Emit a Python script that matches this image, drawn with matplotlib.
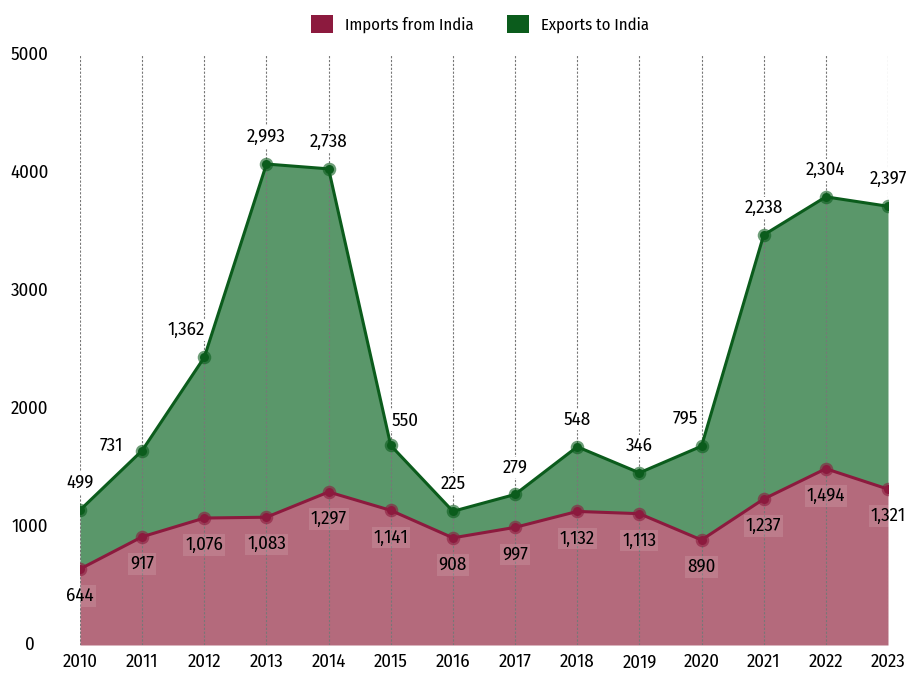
import matplotlib.pyplot as plt
from matplotlib.patches import Patch
from matplotlib import font_manager

years = list(range(2010, 2024))
imports_from_india = [644, 917, 1076, 1083, 1297, 1141, 908, 997, 1132, 1113, 890, 1237, 1494, 1321]
exports_to_india = [499, 731, 1362, 2993, 2738, 550, 225, 279, 548, 346, 795, 2238, 2304, 2397]

# colours
imp_line = '#8c1a3e'
imp_fill = '#b46a7c'
exp_line = '#0b5c1c'
exp_fill = '#5a976a'

# narrow font if there is one
names = {f.name for f in font_manager.fontManager.ttflist}
wanted = ['Fira Sans Condensed', 'Roboto Condensed', 'Open Sans Condensed', 'Liberation Sans Narrow',
          'Encode Sans Condensed', 'PT Sans Narrow', 'Liberation Sans']
fam = [f for f in wanted if f in names][:1] + ['DejaVu Sans']
plt.rcParams['font.family'] = fam

total = [i + e for i, e in zip(imports_from_india, exports_to_india)]

fig = plt.figure(figsize=(9.08, 6.73), dpi=100)
ax = fig.add_axes([80 / 908, 28 / 673, 808 / 908, 590 / 673])

ax.fill_between(years, 0, imports_from_india, color=imp_fill, lw=0, zorder=1)
ax.fill_between(years, imports_from_india, total, color=exp_fill, lw=0, zorder=1)

for y in years:
    ax.axvline(y, color='#777777', lw=0.8, ls=(0, (2, 1.5)), zorder=2)

ax.plot(years, total, color=exp_line, lw=2.2, zorder=4)
ax.plot(years, imports_from_india, color=imp_line, lw=2.2, zorder=4)
ax.scatter(years, total, s=95, color=exp_line, alpha=0.6, lw=0, zorder=5)
ax.scatter(years, total, s=42, color=exp_line, lw=0, zorder=6)
ax.scatter(years, imports_from_india, s=95, color=imp_line, alpha=0.6, lw=0, zorder=5)
ax.scatter(years, imports_from_india, s=42, color=imp_line, lw=0, zorder=6)

# labels, a few of them pushed aside
exp_offsets = {2011: (-22, 3.5), 2012: (-13, 19.5), 2015: (10, 18), 2020: (-12, 20)}
for x, t, v in zip(years, total, exports_to_india):
    dx, dy = exp_offsets.get(x, (0, 19.5))
    ax.annotate(f'{v:,}', (x, t), xytext=(dx, dy), textcoords='offset points',
                ha='center', va='center', fontsize=13.5, zorder=3,
                bbox=dict(boxstyle='square,pad=0.1', fc='white', ec='none'))
for x, v in zip(years, imports_from_india):
    ax.annotate(f'{v:,}', (x, v), xytext=(0, -19.5), textcoords='offset points',
                ha='center', va='center', fontsize=13.5, zorder=3,
                bbox=dict(boxstyle='square,pad=0.1', fc='white', alpha=0.12, ec='none'))

ax.set_xlim(2010, 2023)
ax.set_ylim(0, 5000)
ax.set_xticks(years)
ax.set_xticklabels([str(y) for y in years], fontsize=13.5)
ax.tick_params(axis='x', length=0, pad=6)
ax.set_yticks([0, 1000, 2000, 3000, 4000, 5000])
ax.set_yticklabels([])
ax.tick_params(axis='y', length=0)
for v in [0, 1000, 2000, 3000, 4000, 5000]:
    ax.text(-0.062, v, str(v), transform=ax.get_yaxis_transform(), ha='center', va='center', fontsize=13.5)
for s in ax.spines.values():
    s.set_visible(False)

handles = [Patch(facecolor=imp_line, label='Imports from India'),
           Patch(facecolor=exp_line, label='Exports to India')]
fig.legend(handles=handles, loc='center', bbox_to_anchor=(480 / 908, 1 - 24 / 673), ncol=2,
           frameon=False, fontsize=12, handlelength=1.35, handleheight=1.35,
           handletextpad=0.7, columnspacing=2.0)

fig.savefig('out.png', dpi=100)
